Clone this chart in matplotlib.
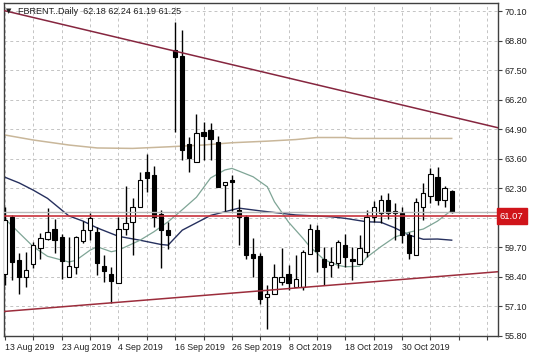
import numpy as np
import matplotlib
matplotlib.use("Agg")
import matplotlib.pyplot as plt
import matplotlib.transforms as mtransforms

plt.rcParams['font.family'] = ['Liberation Sans', 'DejaVu Sans']

# daily candles, bar 0 = 13 Aug 2019, last bar = 8 Nov 2019
opens = [58.51, 61.04, 59.13, 58.37, 58.95, 59.65, 60.06, 60.48, 60.16, 58.40,
         58.81, 59.98, 60.45, 60.38, 58.87, 58.51, 58.14, 60.48, 60.82, 61.48,
         63.02, 62.90, 61.16, 60.45, 68.38, 68.12, 64.23, 63.46, 64.78, 64.86,
         64.34, 62.43, 62.66, 61.36, 61.04, 59.40, 59.31, 57.49, 57.66, 58.18,
         58.51, 57.95, 57.95, 59.38, 60.45, 59.20, 58.91, 58.99, 59.79, 59.20,
         58.94, 59.48, 61.04, 61.21, 61.77, 61.30, 61.21, 60.23, 59.35, 61.48,
         61.95, 62.77, 61.80, 62.18]
highs = [61.48, 61.11, 59.45, 59.50, 59.94, 60.33, 61.41, 60.92, 60.28, 60.16,
         60.19, 60.86, 61.21, 60.57, 59.35, 58.84, 61.01, 62.39, 61.85, 63.02,
         63.80, 63.27, 61.36, 60.82, 69.63, 69.26, 64.56, 65.56, 65.22, 65.18,
         64.59, 62.58, 62.88, 61.81, 61.10, 60.09, 59.45, 58.03, 58.95, 59.65,
         58.91, 59.35, 59.57, 60.70, 60.67, 59.72, 59.72, 60.01, 60.30, 59.72,
         60.23, 61.33, 61.74, 61.99, 62.10, 61.63, 61.48, 60.38, 61.85, 62.51,
         63.17, 63.24, 62.39, 62.24]
lows = [58.03, 58.25, 57.66, 57.96, 58.77, 59.20, 60.01, 59.45, 58.32, 58.37,
        58.54, 59.87, 60.01, 58.47, 58.18, 57.25, 58.14, 60.23, 59.35, 61.48,
        62.14, 60.60, 58.80, 59.60, 64.78, 63.54, 63.02, 63.46, 63.54, 63.54,
        62.36, 61.26, 61.30, 59.79, 59.20, 58.40, 57.22, 56.12, 57.66, 58.03,
        57.81, 57.95, 57.81, 59.38, 58.62, 58.03, 58.40, 58.77, 58.84, 58.25,
        58.94, 59.28, 60.82, 60.75, 60.95, 60.01, 59.87, 59.20, 59.35, 60.89,
        61.63, 61.55, 61.48, 61.19]
closes = [60.89, 59.06, 58.37, 58.69, 59.79, 60.09, 60.38, 60.01, 59.10, 58.87,
          60.13, 60.45, 60.97, 58.99, 58.65, 58.22, 60.48, 60.75, 61.48, 62.68,
          62.76, 61.04, 60.45, 60.23, 68.06, 63.98, 63.61, 64.74, 64.61, 64.45,
          62.36, 62.58, 62.58, 61.04, 59.35, 59.23, 57.44, 57.63, 58.37, 58.40,
          58.13, 58.32, 59.50, 60.50, 59.53, 58.84, 59.06, 59.94, 59.28, 59.09,
          59.65, 61.04, 61.45, 61.80, 61.21, 61.19, 60.23, 59.43, 61.70, 62.10,
          62.92, 61.80, 62.29, 61.25]

date_labels = ["13 Aug 2019", "23 Aug 2019", "4 Sep 2019", "16 Sep 2019",
               "26 Sep 2019", "8 Oct 2019", "18 Oct 2019", "30 Oct 2019"]

# moving averages (bar index, value)
slow_idx = [0, 4, 9, 13, 18, 23, 28, 32, 37, 41, 44, 48, 49, 63]
slow_val = [64.64, 64.42, 64.20, 64.07, 64.05, 64.12, 64.20, 64.30, 64.37,
            64.44, 64.53, 64.53, 64.49, 64.49]
mid_idx = [0, 2, 4, 6, 9, 11, 13, 16, 19, 22, 23, 25, 29, 33, 36, 41, 46, 48,
           51, 53, 55, 57, 59, 61, 63]
mid_val = [62.78, 62.53, 62.21, 61.85, 61.08, 60.85, 60.55, 60.18, 60.01,
           59.82, 59.79, 60.45, 61.10, 61.42, 61.30, 61.12, 61.04, 60.97,
           60.82, 60.80, 60.55, 60.23, 60.05, 60.06, 60.01]
fast_idx = [0, 2, 4, 6, 9, 10, 12, 13, 15, 16, 19, 21, 23, 25, 27, 29, 31, 32,
            33, 35, 37, 38, 40, 42, 43, 45, 47, 48, 50, 51, 53, 55, 57, 59,
            61, 63]
fast_val = [60.95, 60.33, 59.72, 59.30, 59.05, 59.12, 59.57, 59.72, 59.50,
            59.57, 60.00, 60.38, 60.82, 61.35, 61.90, 62.75, 63.10, 63.17,
            63.05, 62.80, 62.36, 61.70, 60.80, 60.10, 59.72, 59.15, 58.90,
            58.84, 58.86, 59.25, 59.72, 60.15, 60.36, 60.50, 60.85, 61.33]

# trend lines and levels
upper_x = [-0.14, 69.53]
upper_y = [70.12, 64.96]
lower_x = [-0.14, 69.53]
lower_y = [56.87, 58.62]
level = 61.07

n = len(opens)
x = np.arange(n)

fig = plt.figure(figsize=(5.36, 3.58), dpi=100)
ax = fig.add_axes([4/536, 22/358, 494/536, 332.7/358])
ax.set_xlim(-0.14, 69.53)
ax.set_ylim(55.79, 70.44)

# grid
yt = np.round(np.arange(55.80, 70.2, 1.30), 2)
ax.set_yticks(yt)
# the 61.00 label sits under the red price box
ax.set_yticklabels(["" if abs(v - level) < 0.3 else "%.2f" % v for v in yt])
xt = np.arange(0, 70, 4)
ax.set_xticks(xt)
ax.set_xticklabels([date_labels[k // 2] if k % 2 == 0 and k // 2 < len(date_labels) else ""
                    for k in range(len(xt))], ha='left')
ax.grid(True, color='#c4c4c4', linestyle=(0, (3, 3)), linewidth=0.7, zorder=0)
ax.set_axisbelow(True)

ax.yaxis.tick_right()
ax.tick_params(axis='y', labelsize=6.5, length=3, pad=2, color='#404040', labelcolor='#202020')
ax.tick_params(axis='x', labelsize=6.3, length=3, pad=2, color='#404040', labelcolor='#202020')
for s in ax.spines.values():
    s.set_color('#404040')
    s.set_linewidth(1.0)

# moving averages
ax.plot(slow_idx, slow_val, color='#c9b79a', lw=1.1, zorder=2)
ax.plot(mid_idx, mid_val, color='#26305e', lw=1.0, zorder=2)
ax.plot(fast_idx, fast_val, color='#7fa596', lw=0.9, zorder=2)

# candles
o = np.array(opens); c = np.array(closes)
ax.vlines(x, lows, highs, color='black', lw=1.0, zorder=3)
up = c >= o
bot = np.minimum(o, c)
hgt = np.maximum(np.abs(c - o), 0.04)
ax.bar(x[up], hgt[up], bottom=bot[up], width=0.6, color='white',
       edgecolor='black', linewidth=0.8, zorder=4)
ax.bar(x[~up], hgt[~up], bottom=bot[~up], width=0.6, color='black',
       edgecolor='black', linewidth=0.8, zorder=4)

# lines
ax.axhline(closes[-1], color='#b8b8b8', lw=1.0, zorder=5)
ax.axhline(level, color='#c8323c', lw=1.2, zorder=5)
ax.plot(upper_x, upper_y, color='#86263f', lw=1.1, zorder=5)
ax.plot(lower_x, lower_y, color='#9c2d3c', lw=1.1, zorder=5)

# price label on the axis
trans = mtransforms.blended_transform_factory(ax.transAxes, ax.transData)
ax.text(1.004, level, "%.2f" % level, transform=trans, fontsize=6.8, color='white',
        va='center', ha='left', clip_on=False, zorder=10,
        bbox=dict(boxstyle='square,pad=0.35', facecolor='#d0141a', edgecolor='#d0141a'))

# header
fig.text(6/536, 1 - 11/358, u"\u25bc", fontsize=5, va='center', ha='left',
         family='DejaVu Sans', color='#202020')
fig.text(18/536, 1 - 11/358,
         "FBRENT..Daily  %.2f %.2f %.2f %.2f" % (opens[-1], highs[-1], lows[-1], closes[-1]),
         fontsize=6.5, va='center', ha='left', color='#202020')

fig.savefig("out.png", dpi=100)
